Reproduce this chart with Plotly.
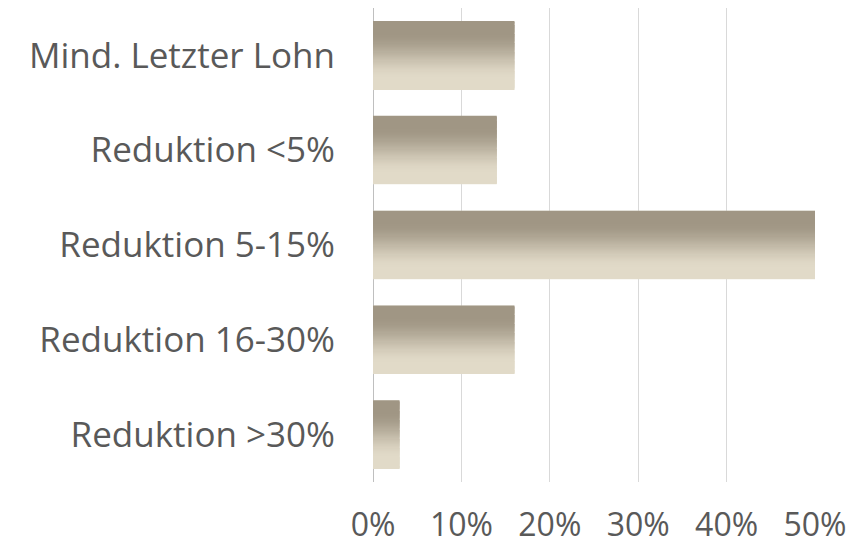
import plotly.graph_objects as go

categories = ["Mind. Letzter Lohn", "Reduktion <5%", "Reduktion 5-15%", "Reduktion 16-30%", "Reduktion >30%"]
values = [0.16, 0.14, 0.50, 0.16, 0.03]

# plot bottom-to-top so offsets go upward
cats = categories[::-1]
vals = values[::-1]

top_rgb = (160, 150, 132)
bot_rgb = (225, 218, 200)
N = 60
bar_w = 0.71

def mix(t):
    # t=0 bottom, t=1 top; smooth gradient concentrated in middle
    s = min(max((t - 0.15) / 0.7, 0), 1)
    s = s * s * (3 - 2 * s)
    return "rgb(%d,%d,%d)" % tuple(round(b + (a - b) * s) for a, b in zip(top_rgb, bot_rgb))

fig = go.Figure()
fig.add_trace(go.Bar(x=vals, y=cats, orientation="h", width=bar_w + 0.01, offset=-(bar_w + 0.01) / 2,
                     marker=dict(color="rgb(232,226,212)", line=dict(width=0)), hoverinfo="skip", showlegend=False))
for i in range(N):
    t = (i + 0.5) / N
    fig.add_trace(go.Bar(
        x=vals, y=cats, orientation="h",
        width=bar_w / N * 1.6, offset=-bar_w / 2 + i * bar_w / N,
        marker=dict(color=mix(t), line=dict(width=0)),
        hoverinfo="skip", showlegend=False,
    ))

fig.update_layout(
    width=850, height=531,
    margin=dict(l=365, r=43, t=0, b=57),
    barmode="overlay",
    plot_bgcolor="white", paper_bgcolor="white",
    font=dict(family="Open Sans, sans-serif", size=32, color="#595959"),
    xaxis=dict(range=[0, 0.5], dtick=0.1, tickformat=".0%", showgrid=True, automargin=False,
               gridcolor="#d9d9d9", gridwidth=1, zeroline=True, zerolinecolor="#bfbfbf",
               zerolinewidth=1, showline=False, ticks="", ticklabelstandoff=21,
               tickfont=dict(size=32, color="#595959")),
    yaxis=dict(showgrid=False, zeroline=False, showline=False, ticks="", automargin=False,
               ticklabelstandoff=37, tickfont=dict(size=35, color="#595959")),
)
fig.write_html("out.html")
